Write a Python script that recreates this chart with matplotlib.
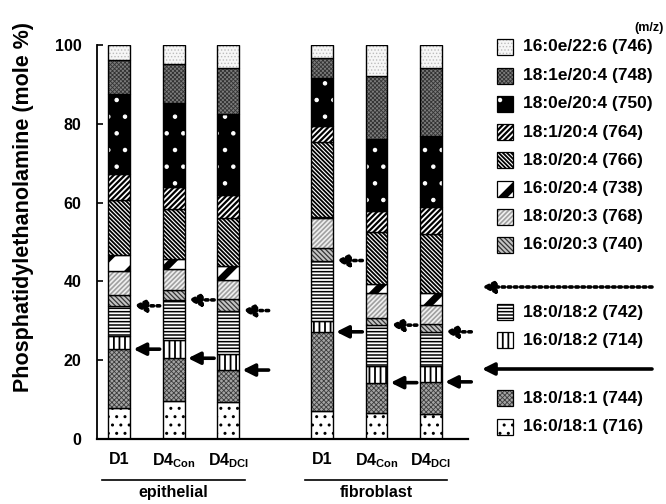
import numpy as np
import matplotlib
matplotlib.use('Agg')
import matplotlib.pyplot as plt
from matplotlib.patches import Rectangle

plt.rcParams['font.family'] = ['Liberation Sans', 'DejaVu Sans']
plt.rcParams['font.weight'] = 'bold'
plt.rcParams['mathtext.fontset'] = 'custom'
plt.rcParams['mathtext.rm'] = 'Liberation Sans:bold'
plt.rcParams['mathtext.bf'] = 'Liberation Sans:bold'
plt.rcParams['mathtext.it'] = 'Liberation Sans:bold'

# molecular species, bottom of the stack first
species = ['16:0/18:1 (716)', '18:0/18:1 (744)', '16:0/18:2 (714)', '18:0/18:2 (742)',
           '16:0/20:3 (740)', '18:0/20:3 (768)', '16:0/20:4 (738)', '18:0/20:4 (766)',
           '18:1/20:4 (764)', '18:0e/20:4 (750)', '18:1e/20:4 (748)', '16:0e/22:6 (746)']

# mole % per sample (same order as species)
epi_d1 = [7.9, 14.9, 3.3, 7.7, 2.7, 6.2, 4.0, 14.0, 6.5, 20.3, 8.7, 3.8]
epi_con = [9.7, 10.8, 4.6, 10.2, 2.5, 5.3, 2.7, 12.7, 5.4, 21.5, 9.9, 4.7]
epi_dci = [9.3, 8.2, 4.2, 10.9, 2.9, 4.9, 3.5, 12.3, 5.7, 20.5, 11.7, 5.9]
fib_d1 = [7.2, 20.0, 2.7, 15.4, 3.1, 7.6, 0.4, 18.9, 4.2, 12.0, 5.3, 3.2]
fib_con = [6.5, 7.8, 4.2, 10.4, 1.7, 6.5, 2.2, 13.2, 5.4, 18.2, 16.0, 7.9]
fib_dci = [6.3, 8.2, 4.0, 8.7, 2.0, 4.8, 3.1, 14.9, 6.8, 18.2, 17.1, 5.9]

samples = [epi_d1, epi_con, epi_dci, fib_d1, fib_con, fib_dci]
sample_labels = ['D1', 'D4$_{Con}$', 'D4$_{DCI}$', 'D1', 'D4$_{Con}$', 'D4$_{DCI}$']
groups = ['epithelial', 'fibroblast']
xpos = [0, 1, 2, 3.72, 4.72, 5.72]

# fill style per species: face, hatch, hatch colour, hatch linewidth
styles = [
    ('white', '..', 'black', 1.0),
    ('#a4a4a4', 'xxxxxxx', '#3c3c3c', 0.6),
    ('white', '|||', 'black', 1.3),
    ('white', '-----', 'black', 1.1),
    ('#c4c4c4', '\\' * 7, '#333333', 0.9),
    ('#f0f0f0', '/' * 7, '#a0a0a0', 1.2),
    ('white', '/', 'black', 5.0),
    ('white', '\\' * 8, 'black', 1.3),
    ('white', '/' * 6, 'black', 1.6),
    ('black', '.', 'white', 0.8),
    ('#7c7c7c', 'xxxxxxxx', '#333333', 0.6),
    ('#f6f6f6', '.....', '#bcbcbc', 0.6),
]


def hatched(patch_maker, style):
    face, h, hc, hlw = style
    with plt.rc_context({'hatch.linewidth': hlw}):
        p = patch_maker(face, h, hc)
    for q in (p if isinstance(p, (list, tuple)) or hasattr(p, 'patches') else [p]):
        if hasattr(q, 'set_hatch_linewidth'):
            q.set_hatch_linewidth(hlw)
    return p


fig = plt.figure(figsize=(6.66, 5.04), dpi=100)
ax = fig.add_axes([97 / 666, 65 / 504, 371 / 666, 394 / 504])

arrow_solid = dict(arrowstyle='-|>', lw=2.6, color='black', mutation_scale=18,
                   shrinkA=0, shrinkB=0)
arrow_dotted = dict(arrow_solid, ls=(0, (0.7, 1.0)))

width = 0.4
for x, vals in zip(xpos, samples):
    bottom = 0
    for v, st in zip(vals, styles):
        def mk(face, h, hc, x=x, v=v, bottom=bottom):
            return ax.bar(x, v, width, bottom=bottom, color=face, edgecolor=hc,
                          linewidth=0, hatch=h)
        hatched(mk, st)
        ax.bar(x, v, width, bottom=bottom, fill=False, edgecolor='black', linewidth=1.0)
        bottom += v
    cum = np.cumsum(vals)
    # dotted arrow: top of 18:0/18:2, solid arrow: top of 18:0/18:1
    ax.annotate('', xy=(x + 0.26, cum[3]), xytext=(x + 0.74, cum[3]),
                arrowprops=arrow_dotted, annotation_clip=False)
    ax.annotate('', xy=(x + 0.26, cum[1]), xytext=(x + 0.74, cum[1]),
                arrowprops=arrow_solid, annotation_clip=False)

ax.set_xlim(-0.41, 6.4)
ax.set_ylim(0, 100)
ax.set_yticks([0, 20, 40, 60, 80, 100])
ax.set_xticks(xpos)
ax.set_xticklabels(sample_labels)
ax.tick_params(axis='y', direction='in', length=4, width=1.2, pad=11, labelsize=11.5)
ax.tick_params(axis='x', length=0, pad=9, labelsize=11.5)
for s in ['top', 'right']:
    ax.spines[s].set_visible(False)
ax.spines['left'].set_linewidth(1.3)
ax.spines['bottom'].set_linewidth(1.6)

fig.text(24 / 666, 1 - 207 / 504, 'Phosphatidylethanolamine (mole %)', rotation=90,
         ha='center', va='center', fontsize=15.5, fontweight='bold')

# group labels with underline
trans = ax.get_xaxis_transform()
for g, i0 in zip(groups, [0, 3]):
    x0 = xpos[i0] - 0.31
    x1 = xpos[i0 + 2] + 0.3
    ax.plot([x0, x1], [-0.105, -0.105], color='black', lw=1.2, transform=trans, clip_on=False)
    ax.text((x0 + x1) / 2, -0.137, g, transform=trans, ha='center', va='center',
            fontsize=11.5, fontweight='bold')

# legend drawn in pixel coordinates
lax = fig.add_axes([0, 0, 1, 1])
lax.set_xlim(0, 666)
lax.set_ylim(504, 0)
lax.axis('off')
lax.text(634, 28, '(m/z)', ha='left', va='center', fontsize=9, fontweight='bold')

rows = [47, 75.5, 103.5, 132, 160, 188.5, 217, 245, 312, 340, 398, 427]
order = list(range(len(species)))[::-1]
for y, k in zip(rows, order):
    def mk(face, h, hc, y=y):
        r = Rectangle((497, y - 8), 16, 16, facecolor=face, edgecolor=hc,
                      linewidth=0, hatch=h)
        lax.add_patch(r)
        return r
    hatched(mk, styles[k])
    lax.add_patch(Rectangle((497, y - 8), 16, 16, fill=False, edgecolor='black', lw=0.9))
    lax.text(523, y, species[k], ha='left', va='center', fontsize=12.5, fontweight='bold')

lax.annotate('', xy=(482, 287), xytext=(652, 287), arrowprops=arrow_dotted)
lax.annotate('', xy=(482, 369), xytext=(652, 369), arrowprops=arrow_solid)

fig.savefig('out.png', dpi=100)
